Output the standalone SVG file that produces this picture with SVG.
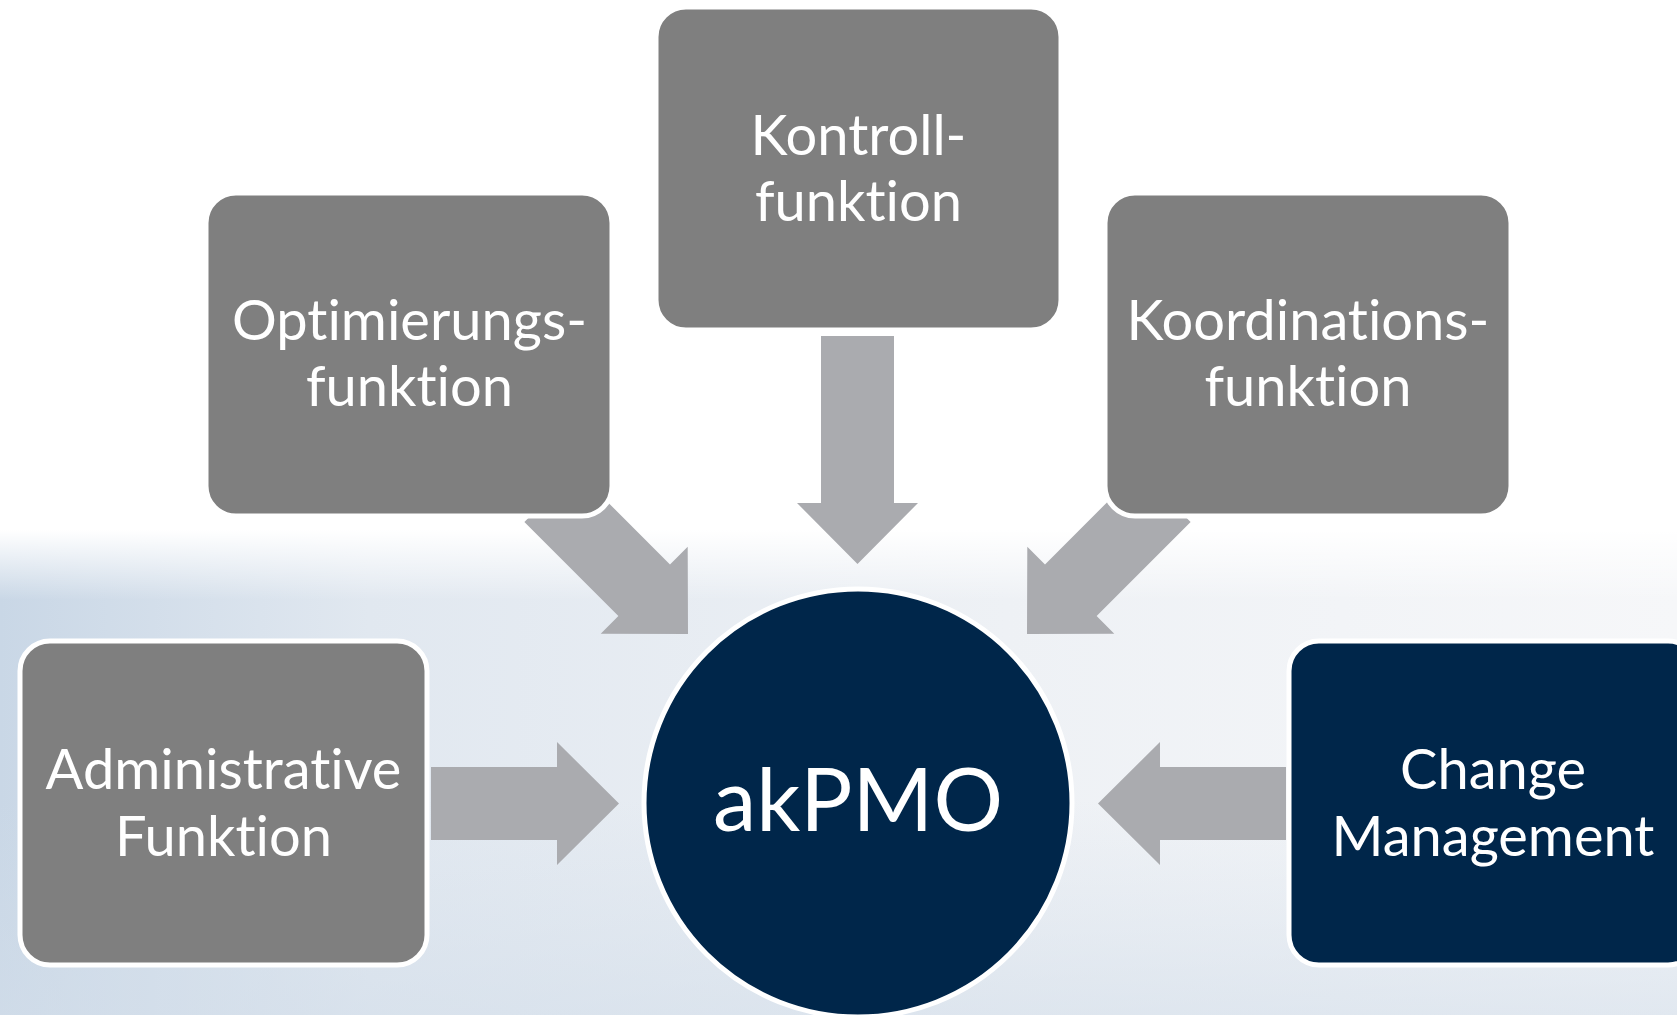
<svg xmlns="http://www.w3.org/2000/svg" width="1677" height="1015" viewBox="0 0 1677 1015">
  <defs>
    <linearGradient id="bgH" x1="0" y1="0" x2="1" y2="0">
      <stop offset="0" stop-color="#C9D7E6"/>
      <stop offset="0.22" stop-color="#E1E8F0"/>
      <stop offset="0.6" stop-color="#EEF1F5"/>
      <stop offset="1" stop-color="#F6F7F9"/>
    </linearGradient>
    <linearGradient id="bgV" x1="0" y1="0" x2="0" y2="1">
      <stop offset="0" stop-color="#FFFFFF" stop-opacity="1"/>
      <stop offset="1" stop-color="#FFFFFF" stop-opacity="0"/>
    </linearGradient>
    <linearGradient id="bgB" x1="0" y1="0" x2="0" y2="1">
      <stop offset="0" stop-color="#D3DEEA" stop-opacity="0"/>
      <stop offset="1" stop-color="#D3DEEA" stop-opacity="0.6"/>
    </linearGradient>
    <style>
      .box { fill: #7F7F7F; stroke: #FFFFFF; stroke-width: 5; }
      .navy { fill: #00264A; stroke: #FFFFFF; stroke-width: 5; }
      .arrow { fill: #AAABAF; }
      .lbl { font-family: Lato, "Open Sans", "Liberation Sans", sans-serif; font-size: 56px; fill: #FFFFFF; text-anchor: middle; font-variant-ligatures: none; font-feature-settings: "liga" 0, "clig" 0; }
      .big { font-family: Lato, "Open Sans", "Liberation Sans", sans-serif; font-size: 87px; fill: #FFFFFF; text-anchor: middle; font-variant-ligatures: none; }
    </style>
  </defs>

  <g id="background">
    <rect x="0" y="0" width="1677" height="1015" fill="#FFFFFF"/>
    <rect x="0" y="530" width="1677" height="485" fill="url(#bgH)"/>
    <rect x="0" y="800" width="1677" height="215" fill="url(#bgB)"/>
    <rect x="0" y="530" width="1677" height="70" fill="url(#bgV)"/>
  </g>

  <g id="connectors">
    <polygon class="arrow" points="821,336 894,336 894,503 918,503 857.5,564 797,503 821,503"/>
    <polygon class="arrow" points="524.4,522 618.4,616 600.7,633.7 688,634 687.7,546.7 670,564.4 576,470.4"/>
    <polygon class="arrow" points="1190.6,522 1096.6,616 1114.3,633.7 1027,634 1027.3,546.7 1045,564.4 1139,470.4"/>
    <polygon class="arrow" points="431,767 557,767 557,742 619,803.5 557,865 557,840 431,840"/>
    <polygon class="arrow" points="1286,767 1160,767 1160,742 1098,803.5 1160,865 1160,840 1286,840"/>
  </g>

  <g id="node-kontroll">
    <rect class="box" x="656" y="7" width="405" height="323" rx="30"/>
    <text class="lbl" x="858.5" y="155">Kontroll-</text>
    <text class="lbl" x="858.5" y="221">funktion</text>
  </g>
  <g id="node-optimierung">
    <rect class="box" x="206" y="193" width="406" height="323" rx="30"/>
    <text class="lbl" x="409.5" y="340">Optimierungs-</text>
    <text class="lbl" x="409.5" y="406">funktion</text>
  </g>
  <g id="node-koordination">
    <rect class="box" x="1105" y="193" width="406" height="323" rx="30"/>
    <text class="lbl" x="1308" y="340">Koordinations-</text>
    <text class="lbl" x="1308" y="406">funktion</text>
  </g>
  <g id="node-administrativ">
    <rect class="box" x="20" y="641" width="407" height="324" rx="30"/>
    <text class="lbl" x="223.5" y="789">Administrative</text>
    <text class="lbl" x="223.5" y="856">Funktion</text>
  </g>
  <g id="node-change">
    <rect class="navy" x="1289" y="641" width="409" height="324" rx="30"/>
    <text class="lbl" x="1493" y="789">Change</text>
    <text class="lbl" x="1493" y="856">Management</text>
  </g>
  <g id="node-akpmo">
    <circle class="navy" cx="858" cy="803" r="214"/>
    <text class="big" x="858" y="831">akPMO</text>
  </g>
</svg>
